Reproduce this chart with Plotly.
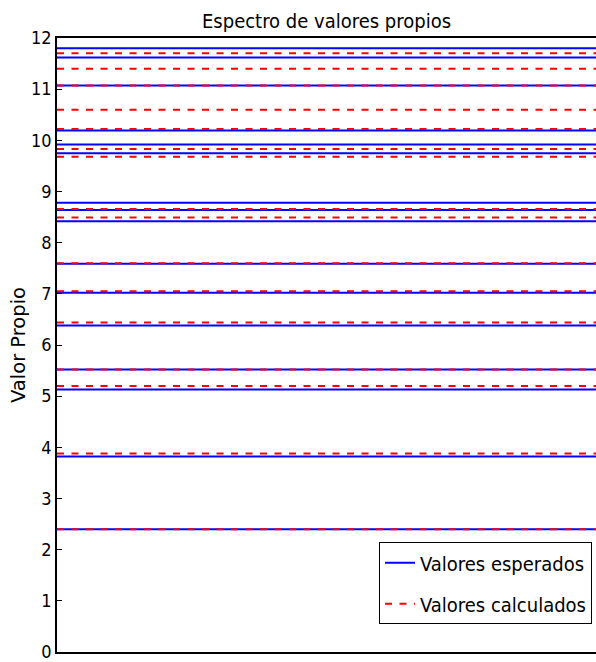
import plotly.graph_objects as go

esperados = [2.40, 3.82, 5.13, 5.52, 6.38, 7.02, 7.59, 8.42, 8.64, 8.78,
             9.75, 9.92, 10.19, 11.07, 11.62, 11.80]
calculados = [2.40, 3.88, 5.20, 5.52, 6.44, 7.05, 7.60, 8.49, 8.66, 9.68,
              9.83, 10.22, 10.60, 11.07, 11.40, 11.70]
y_ticks = list(range(0, 13))
title = "Espectro de valores propios"
y_label = "Valor Propio"
FONT = "DejaVu Sans Condensed, DejaVu Sans, sans-serif"


def hlines(vals):
    xs, ys = [], []
    for v in vals:
        xs += [0, 1, None]
        ys += [v, v, None]
    return xs, ys


fig = go.Figure()
xb, yb = hlines(esperados)
fig.add_trace(go.Scatter(x=xb, y=yb, mode="lines", name="Valores esperados",
                         line=dict(color="#0000ff", width=2),
                         legendgroup="a"))
xr, yr = hlines(calculados)
fig.add_trace(go.Scatter(x=xr, y=yr, mode="lines", name="Valores calculados",
                         line=dict(color="#ff0000", width=2, dash="7px,7.5px"),
                         legendgroup="b"))

fig.update_layout(
    width=596, height=662,
    margin=dict(l=57, r=0, t=38, b=7),
    paper_bgcolor="white", plot_bgcolor="white",
    font=dict(family=FONT, size=17, color="black"),
    title=dict(text=title, x=0.5, xref="paper", xanchor="center",
               y=1 - 21 / 662, yanchor="middle",
               font=dict(size=20, family=FONT)),
    showlegend=True,
    legend=dict(x=0.9926, xanchor="right", y=0.045, yanchor="bottom",
                bordercolor="black", borderwidth=1, bgcolor="white",
                font=dict(size=20, family=FONT), tracegroupgap=12,
                traceorder="grouped", itemwidth=30),
    xaxis=dict(range=[0, 1], showticklabels=False, showgrid=False,
               zeroline=False, showline=True, linecolor="black", linewidth=1.5,
               mirror=True, ticks=""),
    yaxis=dict(range=[0, 12], tickvals=y_ticks, showgrid=False, zeroline=False,
               showline=True, linecolor="black", linewidth=1.5, ticks="inside",
               ticklen=5, tickcolor="black", ticklabeloverflow="allow",
               tickfont=dict(size=18, family=FONT),
               title=dict(text=y_label, font=dict(size=19.5, family="DejaVu Sans"),
                          standoff=0)),
)

fig.write_html("out.html")
